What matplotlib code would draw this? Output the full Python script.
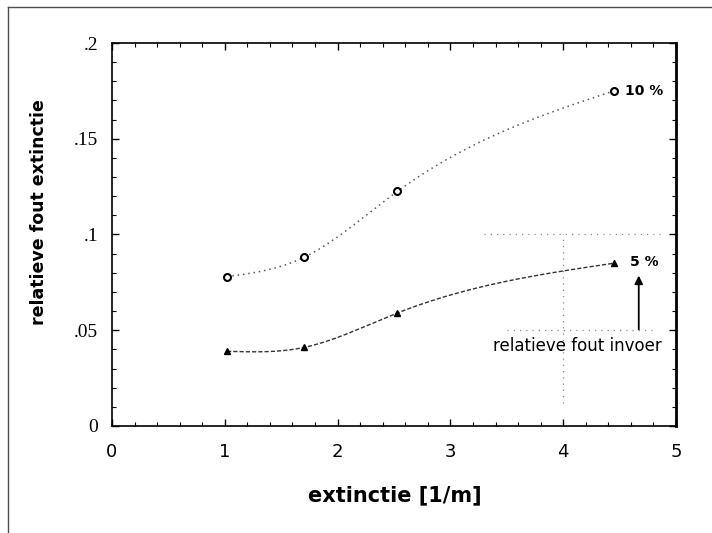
import numpy as np
import matplotlib
matplotlib.use("Agg")
import matplotlib.pyplot as plt
from matplotlib.lines import Line2D
from matplotlib.ticker import FixedLocator, MultipleLocator

# values
extinctie = [1.02, 1.70, 2.53, 4.45]
fout_10 = [0.078, 0.088, 0.1225, 0.175]
fout_5 = [0.039, 0.041, 0.059, 0.085]

xticks = [0, 1, 2, 3, 4, 5]
yticks = [0, 0.05, 0.1, 0.15, 0.2]
ytick_labels = ["0", ".05", ".1", ".15", ".2"]


def natural_spline(x, y, n=200):
    # smooth curve through the measured points (drawing only)
    x = np.asarray(x, float)
    y = np.asarray(y, float)
    k = len(x)
    h = np.diff(x)
    A = np.zeros((k, k))
    b = np.zeros(k)
    A[0, 0] = A[-1, -1] = 1
    for i in range(1, k - 1):
        A[i, i - 1] = h[i - 1]
        A[i, i] = 2 * (h[i - 1] + h[i])
        A[i, i + 1] = h[i]
        b[i] = 6 * ((y[i + 1] - y[i]) / h[i] - (y[i] - y[i - 1]) / h[i - 1])
    M = np.linalg.solve(A, b)
    xs = np.linspace(x[0], x[-1], n)
    idx = np.clip(np.searchsorted(x, xs) - 1, 0, k - 2)
    x0, x1 = x[idx], x[idx + 1]
    hh = x1 - x0
    a = (x1 - xs) / hh
    c = (xs - x0) / hh
    ys = (a * y[idx] + c * y[idx + 1]
          + ((a ** 3 - a) * M[idx] + (c ** 3 - c) * M[idx + 1]) * hh ** 2 / 6)
    return xs, ys


fig = plt.figure(figsize=(7.12, 5.33), dpi=100)
ax = fig.add_axes([0.1573, 0.2008, 0.7921, 0.7185])

xs, ys = natural_spline(extinctie, fout_10)
ax.plot(xs, ys, ls=(0, (1, 2.5)), color="0.35", lw=1.1)
ax.plot(extinctie, fout_10, "o", ms=5, mfc="white", mec="black", mew=1.5)

xs, ys = natural_spline(extinctie, fout_5)
ax.plot(xs, ys, ls=(0, (3, 1.5)), color="0.2", lw=1.0)
ax.plot(extinctie, fout_5, "^", ms=4.5, color="black")

# faint dotted cross left over in the scan
ax.plot([3.3, 4.9], [0.1, 0.1], ls=(0, (1, 4)), color="0.55", lw=0.9)
ax.plot([3.5, 4.8], [0.05, 0.05], ls=(0, (1, 4)), color="0.55", lw=0.9)
ax.plot([4.0, 4.0], [0.012, 0.1], ls=(0, (1, 4)), color="0.55", lw=0.9)

ax.text(4.55, 0.175, "10 %", fontsize=10, fontweight="bold", va="center")
ax.text(4.59, 0.0855, "5 %", fontsize=10, fontweight="bold", va="center")
ax.annotate("", xy=(4.67, 0.08), xytext=(4.67, 0.049),
            arrowprops=dict(arrowstyle="-|>", color="black", lw=1.3,
                            mutation_scale=12))
ax.text(4.13, 0.042, "relatieve fout invoer", fontsize=12,
        ha="center", va="center")

ax.set_xlim(0, 5)
ax.set_ylim(0, 0.2)
ax.xaxis.set_major_locator(FixedLocator(xticks))
ax.xaxis.set_minor_locator(MultipleLocator(0.2))
ax.yaxis.set_major_locator(FixedLocator(yticks))
ax.yaxis.set_minor_locator(MultipleLocator(0.01))
ax.set_yticklabels(ytick_labels, family="Liberation Serif", fontsize=14)
for lab in ax.get_xticklabels():
    lab.set_fontsize(13)
ax.tick_params(which="both", direction="in", top=True, right=True)
ax.tick_params(which="major", length=5, width=1)
ax.tick_params(axis="x", which="major", pad=12)
ax.tick_params(axis="y", which="major", pad=10)
ax.tick_params(which="minor", length=3, width=0.8)

for side in ["left", "bottom", "top"]:
    ax.spines[side].set_linewidth(1.2)
ax.spines["right"].set_linewidth(2)

ax.set_xlabel("extinctie [1/m]", fontsize=15, fontweight="bold")
ax.set_ylabel("relatieve fout extinctie", fontsize=12.5, fontweight="bold")
ax.xaxis.set_label_coords(0.501, -0.156)
ax.yaxis.set_label_coords(-0.113, 0.559)

# frame lines from the scanned page
fig.add_artist(Line2D([0.011, 1.0], [0.987, 0.987], color="0.3", lw=1))
fig.add_artist(Line2D([0.011, 0.011], [0.0, 0.987], color="0.3", lw=1))

fig.savefig("out.png", dpi=100)
